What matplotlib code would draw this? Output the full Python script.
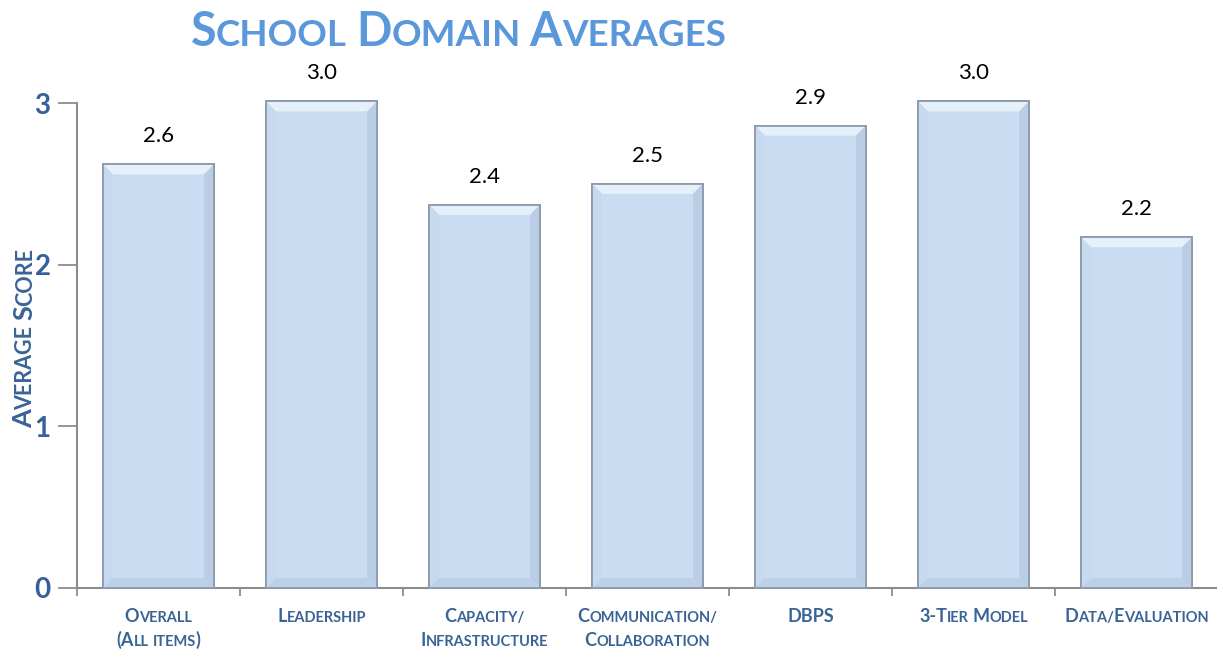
import matplotlib
matplotlib.use("Agg")
import matplotlib.pyplot as plt
from matplotlib.patches import Polygon
import numpy as np

categories = ["Overall\n(All items)", "Leadership", "Capacity/\nInfrastructure",
              "Communication/\nCollaboration", "DBPS", "3-Tier Model", "Data/Evaluation"]
values = [2.62, 3.01, 2.37, 2.50, 2.86, 3.01, 2.17]
value_labels = ["2.6", "3.0", "2.4", "2.5", "2.9", "3.0", "2.2"]
yticks = [0, 1, 2, 3]
title = "School Domain Averages"
ylabel = "Average Score"

W, H = 1217, 649
DPI = 100
FAM = "Lato"
LABEL_COLOR = "#3A6496"

fig = plt.figure(figsize=(W / DPI, H / DPI), dpi=DPI)
ax = fig.add_axes([77 / W, 1 - 588 / H, (1218 - 77) / W, (588 - 103) / H])
x = np.arange(len(categories))
bars = ax.bar(x, values, width=0.68, color="#C9DCF1", edgecolor="#8C9BAD",
              linewidth=1.3, clip_on=False, zorder=3)

# bevel shading derived from each bar's geometry
dx, dy = 0.06, 0.062
for b in bars:
    x0, x1 = b.get_x(), b.get_x() + b.get_width()
    y0, y1 = b.get_y(), b.get_y() + b.get_height()
    faces = [
        ([(x0, y1), (x1, y1), (x1 - dx, y1 - dy), (x0 + dx, y1 - dy)], "#E6F0FA"),
        ([(x0, y0), (x1, y0), (x1 - dx, y0 + dy), (x0 + dx, y0 + dy)], "#BDD0E7"),
        ([(x0, y0), (x0, y1), (x0 + dx, y1 - dy), (x0 + dx, y0 + dy)], "#C6D9EF"),
        ([(x1, y0), (x1, y1), (x1 - dx, y1 - dy), (x1 - dx, y0 + dy)], "#BACDE4"),
    ]
    for pts, col in faces:
        ax.add_patch(Polygon(pts, closed=True, facecolor=col, edgecolor="none",
                             zorder=3.5, clip_on=False))
    ax.add_patch(Polygon([(x0, y0), (x0, y1), (x1, y1), (x1, y0)], closed=True,
                         facecolor="none", edgecolor="#8C9BAD", linewidth=1.3,
                         zorder=3.6, clip_on=False))

for xi, v, lab in zip(x, values, value_labels):
    ax.annotate(lab, (xi, v), xytext=(0, 13), textcoords="offset points",
                ha="center", va="bottom", fontsize=16, family=FAM, color="black",
                annotation_clip=False)

ax.set_xlim(-0.5, len(categories) - 0.5)
ax.set_ylim(0, 3)
ax.set_yticks(yticks)
ax.set_yticklabels([str(t) for t in yticks], fontsize=20, fontweight="bold",
                   color="#35609A", family=FAM)
ax.set_xticks(np.arange(len(categories) + 1) - 0.5)
ax.set_xticklabels([])
ax.tick_params(axis="y", direction="out", length=14, width=1.3, color="#8C8C8C", pad=5)
ax.tick_params(axis="x", direction="out", length=6, width=1.3, color="#8C8C8C")
for s in ["top", "right"]:
    ax.spines[s].set_visible(False)
for s in ["left", "bottom"]:
    ax.spines[s].set_color("#8C8C8C")
    ax.spines[s].set_linewidth(1.5)

fig.canvas.draw()
renderer = fig.canvas.get_renderer()


def runs(s):
    out = []
    for ch in s:
        if ch == " ":
            kind = "space"
        elif ch.islower() or ch == "/":
            kind = "small"
        else:
            kind = "big"
        c = ch.upper()
        if out and out[-1][1] == kind and kind != "space":
            out[-1][0] += c
        else:
            out.append([c, kind])
    return out


def measure(txt, size):
    t = fig.text(0, 0, "|" + txt + "|", fontsize=size, family=FAM, fontweight="bold")
    w1 = t.get_window_extent(renderer).width
    t.set_text("||")
    w0 = t.get_window_extent(renderer).width
    t.remove()
    return w1 - w0


def smallcaps(px, py, s, big, small, color, rotation=0):
    r = runs(s)
    widths = []
    for t, kind in r:
        widths.append(measure(t, big if kind == "big" else small))
    total = sum(widths)
    pos = -total / 2
    for (t, kind), w in zip(r, widths):
        if kind != "space":
            size = big if kind == "big" else small
            if rotation == 0:
                fig.text((px + pos) / W, py / H, t, fontsize=size, family=FAM,
                         fontweight="bold", color=color, ha="left", va="baseline")
            else:
                fig.text(px / W, (py + pos) / H, t, fontsize=size, family=FAM,
                         fontweight="bold", color=color, ha="left", va="baseline",
                         rotation=90, rotation_mode="anchor")
        pos += w


# title
smallcaps(458, H - 46, title, 33.5, 26.5, "#5A97DB")
# y label
smallcaps(32, H - 338, ylabel, 19.5, 15.5, LABEL_COLOR, rotation=90)
# x labels
x0, step = 77, (1218 - 77) / len(categories)
for i, cat in enumerate(categories):
    cx = x0 + step * (i + 0.5)
    for j, line in enumerate(cat.split("\n")):
        smallcaps(cx, H - (622 + 24 * j), line, 13, 10.5, LABEL_COLOR)

fig.savefig("out.png", dpi=DPI)
